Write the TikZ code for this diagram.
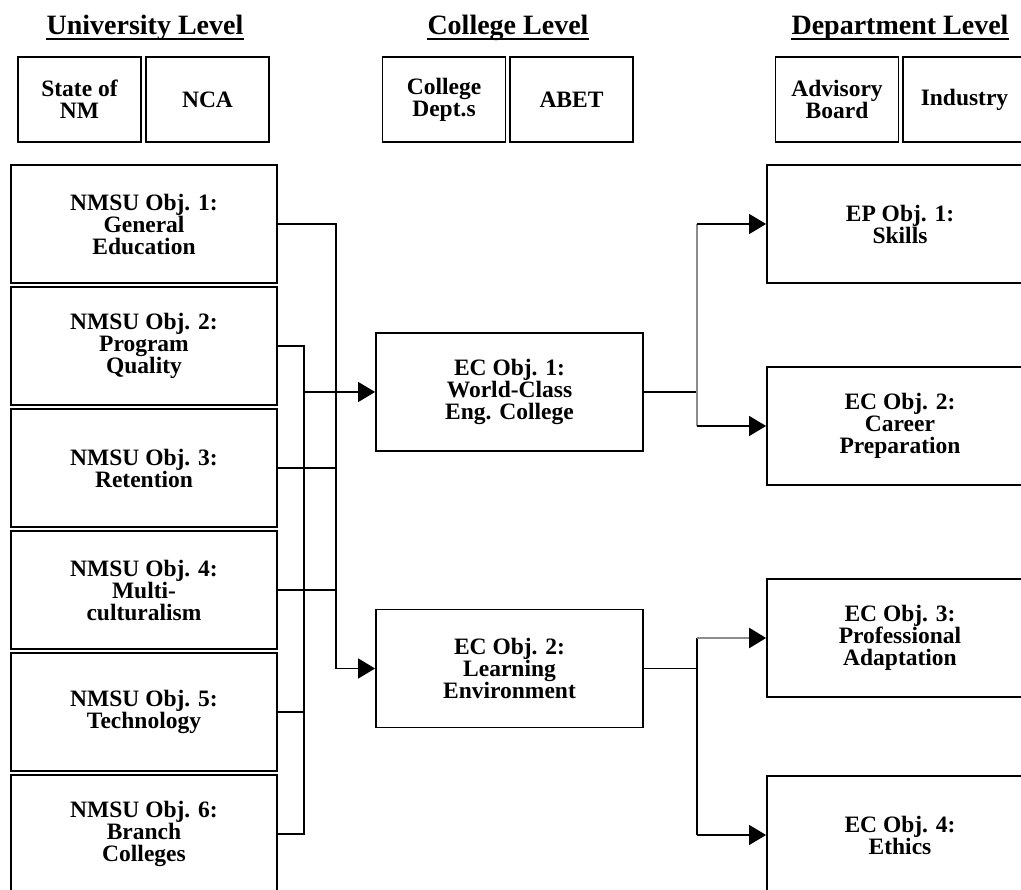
\documentclass[tikz,border=0pt]{standalone}
\usepackage{fontspec}
\setmainfont{Liberation Serif}
\usetikzlibrary{arrows.meta,calc}
\begin{document}
\begin{tikzpicture}[x=1pt,y=-1pt,
  box/.style={draw=black, line width=1.8pt, inner sep=0pt, align=center, font=\fontsize{23.5}{22}\selectfont\bfseries},
  topbox/.style={box, minimum width=123pt, minimum height=85pt},
  objbox/.style={box, minimum width=266pt, minimum height=118pt},
  head/.style={inner sep=0pt, anchor=base, font=\fontsize{28}{30}\selectfont\bfseries},
  conn/.style={line width=1.4pt, draw=black},
  arr/.style={conn, -{Triangle[length=17pt,width=20pt,fill=black,color=black]}},
  grayline/.style={line width=2.5pt, draw=black!45},
]
\useasboundingbox (0,0) rectangle (1021,890);
\fill[white] (0,0) rectangle (1021,890);
\clip (0,0) rectangle (1021,890);

% headers
\node[head] (hu) at (145,35) {University Level};
\node[head] (hc) at (508,35) {College Level};
\node[head] (hd) at (900,35) {Department Level};
\foreach \h in {hu,hc,hd}{
  \draw[line width=1.8pt] ([yshift=-4pt]\h.base west) -- ([yshift=-4pt]\h.base east);
}

% top boxes
\node[topbox] (state) at (79.5,99.5) {State of\\NM};
\node[topbox] (nca) at (207.5,99.5) {NCA};
\node[topbox] (cdep) at (444,99.5) {College\\Dept.s};
\node[topbox] (abet) at (571.5,99.5) {ABET};
\node[topbox] (adv) at (837,99.5) {Advisory\\Board};
\node[topbox] (ind) at (964.5,99.5) {Industry};

% university objectives
\node[objbox] (n1) at (144,224) {NMSU Obj. 1:\\General\\Education};
\node[objbox] (n2) at (144,346) {NMSU Obj. 2:\\Program\\Quality};
\node[objbox] (n3) at (144,468) {NMSU Obj. 3:\\Retention};
\node[objbox] (n4) at (144,590) {NMSU Obj. 4:\\Multi-\\culturalism};
\node[objbox] (n5) at (144,712) {NMSU Obj. 5:\\Technology};
\node[objbox] (n6) at (144,834) {NMSU Obj. 6:\\Branch\\Colleges};

% college objectives
\node[objbox, minimum width=267pt] (ec1) at (509.5,392) {EC Obj. 1:\\World-Class\\Eng. College};
\node[objbox, minimum width=267pt] (ec2) at (509.5,668.5) {EC Obj. 2:\\Learning\\Environment};

% department objectives
\node[objbox] (r1) at (900,224) {EP Obj. 1:\\Skills};
\node[objbox] (r2) at (900,426) {EC Obj. 2:\\Career\\Preparation};
\node[objbox] (r3) at (900,638) {EC Obj. 3:\\Professional\\Adaptation};
\node[objbox] (r4) at (900,835) {EC Obj. 4:\\Ethics};

% bus coordinates
\coordinate (bA) at (304,0);
\coordinate (bB) at (336,0);
\coordinate (bC) at (697,0);

% left connectors
\draw[conn] (n2.east) -| (bA |- n6.east) -- (n6.east);
\draw[conn] (n5.east) -- (n5.east -| bA);
\draw[arr] (bA |- ec1.west) -- (ec1.west);
\draw[conn] (n3.east) -- (n3.east -| bB);
\draw[conn] (n4.east) -- (n4.east -| bB);
\draw[arr] (n1.east) -- (n1.east -| bB) |- (ec2.west);

% right connectors from EC1
\draw[conn] (ec1.east) -- (ec1.east -| bC);
\draw[grayline] (bC |- r1.west) -- (bC |- r2.west);
\draw[arr] (bC |- r1.west) -- (r1.west);
\draw[arr] (bC |- r2.west) -- (r2.west);

% right connectors from EC2
\draw[conn] (ec2.east) -- (ec2.east -| bC);
\draw[conn] (bC |- r3.west) -- (bC |- r4.west);
\draw[arr, draw=black!45, line width=2.5pt] (bC |- r3.west) -- (r3.west);
\draw[arr] (bC |- r4.west) -- (r4.west);
\end{tikzpicture}
\end{document}
